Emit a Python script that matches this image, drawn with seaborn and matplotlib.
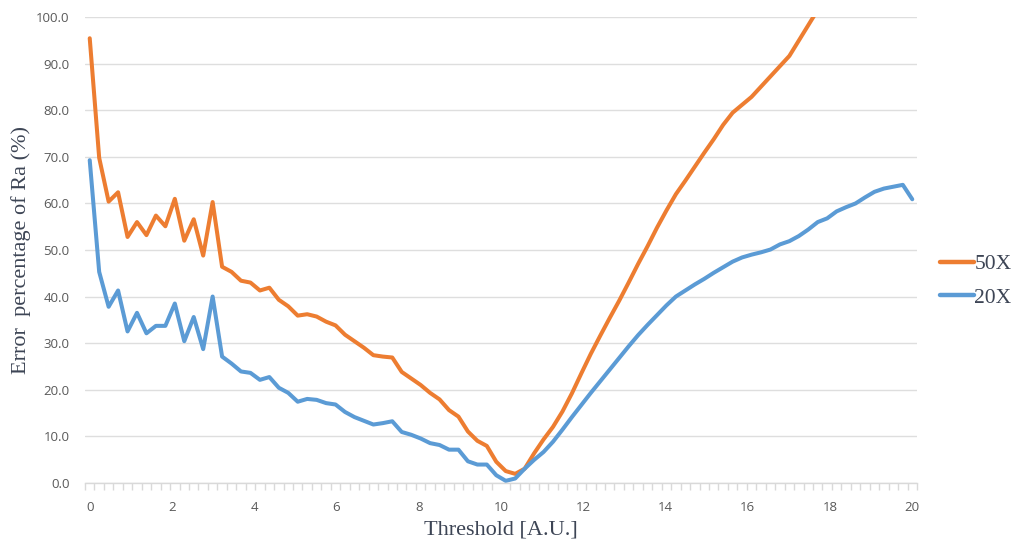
import numpy as np
import pandas as pd
import matplotlib
matplotlib.use("Agg")
import matplotlib.pyplot as plt
import seaborn as sns

# Threshold grid (88 evenly spaced settings between 0 and 20)
thresholds = np.linspace(0, 20, 88)

# Error percentage of Ra for the 50X objective (line leaves the top of the chart past ~17.7)
err_50x = [95.5, 69.8, 60.4, 62.4, 52.8, 56.0, 53.2, 57.4, 55.1, 61.0,
           52.0, 56.6, 48.8, 60.3, 46.4, 45.3, 43.4, 43.0, 41.3, 41.9,
           39.3, 37.9, 35.9, 36.2, 35.7, 34.6, 33.8, 31.8, 30.4, 29.0,
           27.4, 27.1, 26.9, 23.8, 22.4, 21.0, 19.3, 17.9, 15.6, 14.2,
           11.0, 9.0, 7.9, 4.5, 2.5, 1.9, 3.0, 6.3, 9.3, 12.0,
           15.3, 19.2, 23.5, 27.7, 31.6, 35.4, 39.1, 43.0, 47.0, 50.8,
           54.8, 58.5, 62.0, 64.9, 67.9, 70.9, 73.8, 76.9, 79.5, 81.2,
           82.9, 85.1, 87.3, 89.5, 91.7, 95.0, 98.3, 101.6]

# Error percentage of Ra for the 20X objective
err_20x = [69.3, 45.3, 37.8, 41.3, 32.5, 36.5, 32.1, 33.7, 33.7, 38.5,
           30.4, 35.6, 28.7, 40.0, 27.1, 25.6, 23.9, 23.6, 22.1, 22.7,
           20.4, 19.3, 17.4, 18.0, 17.8, 17.1, 16.8, 15.2, 14.1, 13.3,
           12.5, 12.8, 13.2, 10.9, 10.3, 9.5, 8.5, 8.1, 7.1, 7.1,
           4.6, 3.9, 3.9, 1.6, 0.4, 0.9, 3.0, 4.9, 6.6, 8.8,
           11.4, 14.1, 16.7, 19.3, 21.8, 24.3, 26.8, 29.3, 31.7, 33.9,
           36.0, 38.1, 40.0, 41.3, 42.6, 43.8, 45.1, 46.3, 47.5, 48.4,
           49.0, 49.5, 50.1, 51.2, 51.9, 53.0, 54.4, 56.0, 56.8, 58.3,
           59.2, 60.0, 61.3, 62.5, 63.2, 63.6, 64.0, 60.9]

series_names = ["50X", "20X"]
series_colors = {"50X": "#ED7D31", "20X": "#5B9BD5"}
y_ticks = np.arange(0, 101, 10)
x_ticks = np.arange(0, 21, 2)

df = pd.concat([
    pd.DataFrame({"Threshold": thresholds[:len(err_50x)], "Error": err_50x, "Objective": "50X"}),
    pd.DataFrame({"Threshold": thresholds[:len(err_20x)], "Error": err_20x, "Objective": "20X"}),
], ignore_index=True)

sns.set_theme(style="white")
plt.rcParams["font.family"] = ["Open Sans", "DejaVu Sans"]

fig = plt.figure(figsize=(10.18, 5.42), dpi=100)
ax = fig.add_axes([85 / 1018, 1 - 482.7 / 542, 832 / 1018, 465.4 / 542])

sns.lineplot(data=df, x="Threshold", y="Error", hue="Objective",
             hue_order=series_names, palette=series_colors,
             linewidth=2.9, sort=False, errorbar=None, ax=ax)

step = thresholds[1] - thresholds[0]
ax.set_xlim(-step / 2, 20 + step / 2)
ax.set_ylim(0, 100)

# horizontal grid only
ax.set_yticks(y_ticks)
ax.set_yticklabels([f"{v:.1f}" for v in y_ticks])
ax.yaxis.grid(True, color="#dedede", linewidth=1.0)
ax.xaxis.grid(False)
ax.set_axisbelow(True)

ax.set_xticks(x_ticks)
ax.set_xticklabels([f"{v:d}" for v in x_ticks])
ax.set_xticks(np.arange(0, len(thresholds) + 1) * step - step / 2, minor=True)
ax.tick_params(axis="x", which="major", length=0, pad=13, labelsize=9.5, labelcolor="#595959")
ax.tick_params(axis="x", which="minor", length=5, width=1, color="#d9d9d9", direction="out", bottom=True)
ax.tick_params(axis="y", which="major", length=0, pad=11, labelsize=9.5, labelcolor="#595959")

for side in ["top", "right", "left"]:
    ax.spines[side].set_visible(False)
ax.spines["bottom"].set_color("#d9d9d9")
ax.spines["bottom"].set_linewidth(1.0)

title_color = "#3d4555"
ax.set_xlabel("Threshold [A.U.]", family="Liberation Serif", fontsize=16, color=title_color)
ax.xaxis.label.set_va("center")
ax.xaxis.set_label_coords(0.5, (482.7 - 530) / 465.4)
ax.set_ylabel("Error  percentage of Ra (%)", family="Liberation Serif", fontsize=16, color=title_color)
ax.yaxis.label.set_va("center")
ax.yaxis.set_label_coords((21 - 85) / 832, 0.5)

handles, labels = ax.get_legend_handles_labels()
leg = ax.legend(handles, labels, loc="center left",
                bbox_to_anchor=(940 / 1018, 1 - 281 / 542), bbox_transform=fig.transFigure,
                frameon=False, borderpad=0, borderaxespad=0, handlelength=1.6, handletextpad=0.0,
                labelspacing=0.62, prop={"family": "Liberation Serif", "size": 15.5})
for t in leg.get_texts():
    t.set_color(title_color)
for h in leg.get_lines():
    h.set_linewidth(3.2)

fig.savefig("out.png", dpi=100)
